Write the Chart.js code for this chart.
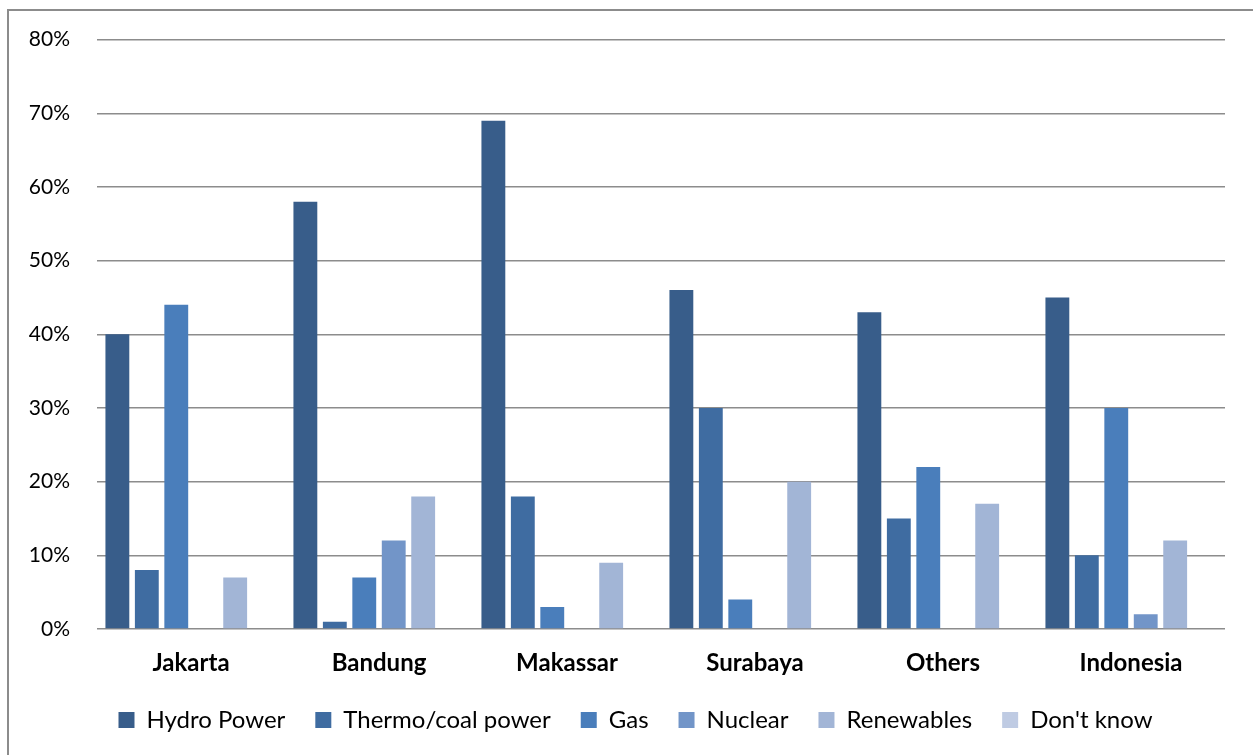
<!DOCTYPE html>
<html>
<head>
<meta charset="utf-8">
<script src="https://cdn.jsdelivr.net/npm/chart.js@4/dist/chart.umd.min.js"></script>
<style>
  html, body { margin: 0; padding: 0; background: #fff; }
  #wrap { position: relative; width: 1253px; height: 755px; overflow: hidden; }
  #frame { position: absolute; left: 7px; top: 9px; width: 1400px; height: 900px; border: 2px solid #8c8c8c; }
  canvas { position: absolute; left: 0; top: 0; }
</style>
</head>
<body>
<div id="wrap">
  <div id="frame"></div>
  <canvas id="chart" width="1253" height="755"></canvas>
</div>
<script>
const cities = ['Jakarta', 'Bandung', 'Makassar', 'Surabaya', 'Others', 'Indonesia'];
const yTicks = [0, 10, 20, 30, 40, 50, 60, 70, 80];

const hydroPower = [40, 58, 69, 46, 43, 45];
const thermoCoal = [8, 1, 18, 30, 15, 10];
const gas = [44, 7, 3, 4, 22, 30];
const nuclear = [0, 12, 0, 0, 0, 2];
const renewables = [7, 18, 9, 20, 17, 12];
const dontKnow = [0, 0, 0, 0, 0, 0];

const series = [
    { label: 'Hydro Power', data: hydroPower, color: '#385D8A' },
    { label: 'Thermo/coal power', data: thermoCoal, color: '#3F6CA1' },
    { label: 'Gas', data: gas, color: '#4A7EBB' },
    { label: 'Nuclear', data: nuclear, color: '#7295C8' },
    { label: 'Renewables', data: renewables, color: '#A2B5D6' },
    { label: "Don't know", data: dontKnow, color: '#BFCBE3' }
];

const font = "Lato, 'Open Sans', sans-serif";

// nudge the legend row a little to the right
const legendShift = {
    id: 'legendShift',
    afterLayout(chart) {
        chart.legend.left += 9;
        chart.legend.right += 9;
    }
};

new Chart(document.getElementById('chart').getContext('2d'), {
    type: 'bar',
    data: {
        labels: cities,
        datasets: series.map(s => ({
            label: s.label,
            data: s.data,
            backgroundColor: s.color,
            borderWidth: 0,
            categoryPercentage: 0.94,
            barPercentage: 0.81
        }))
    },
    options: {
        responsive: false,
        animation: false,
        layout: { padding: { left: 28, right: 28, top: 28, bottom: 13 } },
        scales: {
            x: {
                afterFit: scale => { scale.height = 49; },
                grid: { display: false, drawTicks: false },
                border: { display: false },
                ticks: {
                    color: '#000',
                    padding: 20,
                    font: { family: font, size: 24, weight: 'bold' }
                }
            },
            y: {
                min: 0,
                max: 80,
                afterBuildTicks: scale => { scale.ticks = yTicks.map(v => ({ value: v })); },
                afterFit: scale => { scale.width = 69; },
                grid: { color: '#8c8c8c', lineWidth: 1.5, drawTicks: false },
                border: { display: false },
                ticks: {
                    color: '#000',
                    padding: 27,
                    font: { family: font, size: 21 },
                    callback: v => v + '%'
                }
            }
        },
        plugins: {
            legend: {
                position: 'bottom',
                labels: {
                    color: '#000',
                    boxWidth: 16,
                    boxHeight: 16,
                    padding: 30,
                    font: { family: font, size: 24 }
                }
            },
            tooltip: { enabled: false }
        }
    },
    plugins: [legendShift]
});
</script>
</body>
</html>
